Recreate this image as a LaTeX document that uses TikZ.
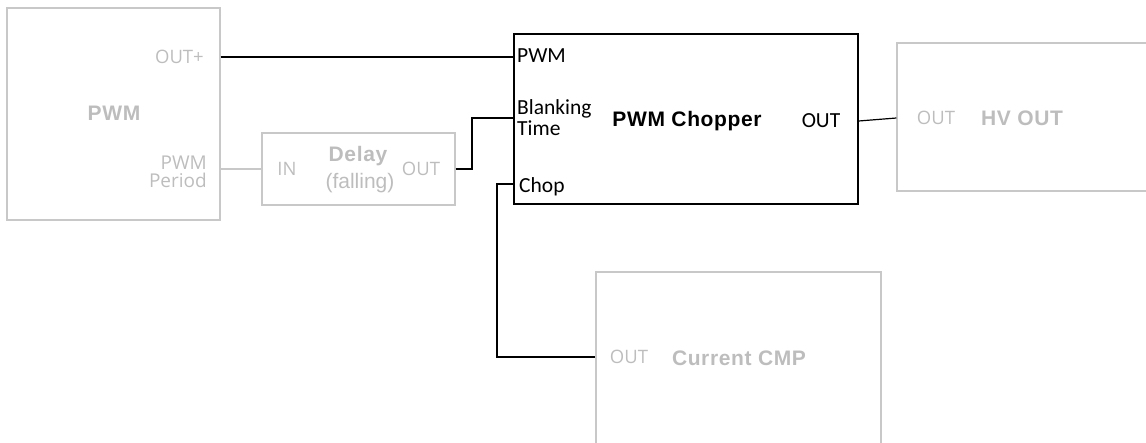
\documentclass[tikz,border=0pt]{standalone}
\usepackage{fontspec}
\newfontfamily\carl{Carlito}
\newfontfamily\opsans{Open Sans}
\newfontfamily\arb{Liberation Sans}[LetterSpace=3]
\newfontfamily\arr{Liberation Sans}
\definecolor{gbox}{HTML}{C8C8C8}
\definecolor{gtxt}{HTML}{BDBDBD}
\tikzset{
  gbox/.style={draw=gbox, line width=1.2pt, minimum width=#1, inner sep=0pt},
  kbox/.style={draw=black, line width=1.2pt, inner sep=0pt},
  gport/.style={text=gtxt, font=\fontsize{18.5}{19}\opsans, inner sep=0pt, align=right},
  gtitle/.style={text=gtxt, font=\fontsize{21}{22}\arb\bfseries, inner sep=0pt, align=center},
  kport/.style={text=black, font=\fontsize{21.5}{21}\carl, inner sep=0pt, align=left},
  ktitle/.style={text=black, font=\fontsize{21}{22}\arb\bfseries, inner sep=0pt},
  wire/.style={line width=1.2pt, black},
  gwire/.style={line width=1.2pt, gbox},
}
\begin{document}
\begin{tikzpicture}[x=1pt,y=-1pt]
\useasboundingbox (0,0) rectangle (1146,442);
% boxes
\node[gbox=213pt, minimum height=212pt] (pwm) at (113.5,114) {};
\node[gbox=193pt, minimum height=72pt] (delay) at (358.5,169) {};
\node[kbox, minimum width=344pt, minimum height=170pt] (chop) at (686,119) {};
\node[gbox=263pt, minimum height=148pt] (hv) at (1028.5,117) {};
\node[gbox=285pt, minimum height=180pt] (cmp) at (738.5,362) {};
% PWM labels
\node[gport, anchor=east] (pwmout) at (204,57) {OUT+};
\node[gtitle] (pwmt) at (114,113) {PWM};
\node[gport, anchor=east, font=\fontsize{19}{17.5}\opsans] (pwmper) at (207,172) {PWM\\Period};
% Delay labels
\node[gport] (din) at (287,169) {IN};
\node[gtitle] (dt) at (358,156) {Delay};
\node[gtitle, font=\fontsize{21}{22}\arr] (dfall) at (360,183) {(falling)};
\node[gport] (dout) at (421,169) {OUT};
% Chopper labels
\node[kport, anchor=west] (cpwm) at (517,56) {PWM};
\node[kport, anchor=west, font=\fontsize{21.5}{21}\carl] (cbl) at (517,118) {Blanking\\Time};
\node[kport, anchor=west] (cchop) at (519,187) {Chop};
\node[ktitle] (ct) at (687,121) {PWM Chopper};
\node[kport] (cout) at (821,121) {OUT};
% HV labels
\node[gport] (hvin) at (936,118) {OUT};
\node[gtitle] (hvt) at (1022,118) {HV OUT};
% CMP labels
\node[gport] (cmpout) at (629,357) {OUT};
\node[gtitle] (cmpt) at (739,358) {Current CMP};
% helper coordinates
\coordinate (j1) at (472,169);
\coordinate (j2) at (472,118);
\coordinate (k1) at (497,184);
\coordinate (k2) at (497,357);
% wires
\draw[wire] (pwm.east |- pwmout) -- (chop.west |- pwmout);
\draw[gwire] (pwm.east |- din) -- (delay.west |- din);
\draw[wire] (delay.east |- j1) -- (j1) -- (j2) -- (chop.west |- j2);
\draw[wire] (chop.west |- k1) -- (k1) -- (k2) -- (cmp.west |- k2);
\draw[wire] (chop.east |- cout) -- (hv.west |- hvin);
\end{tikzpicture}
\end{document}
